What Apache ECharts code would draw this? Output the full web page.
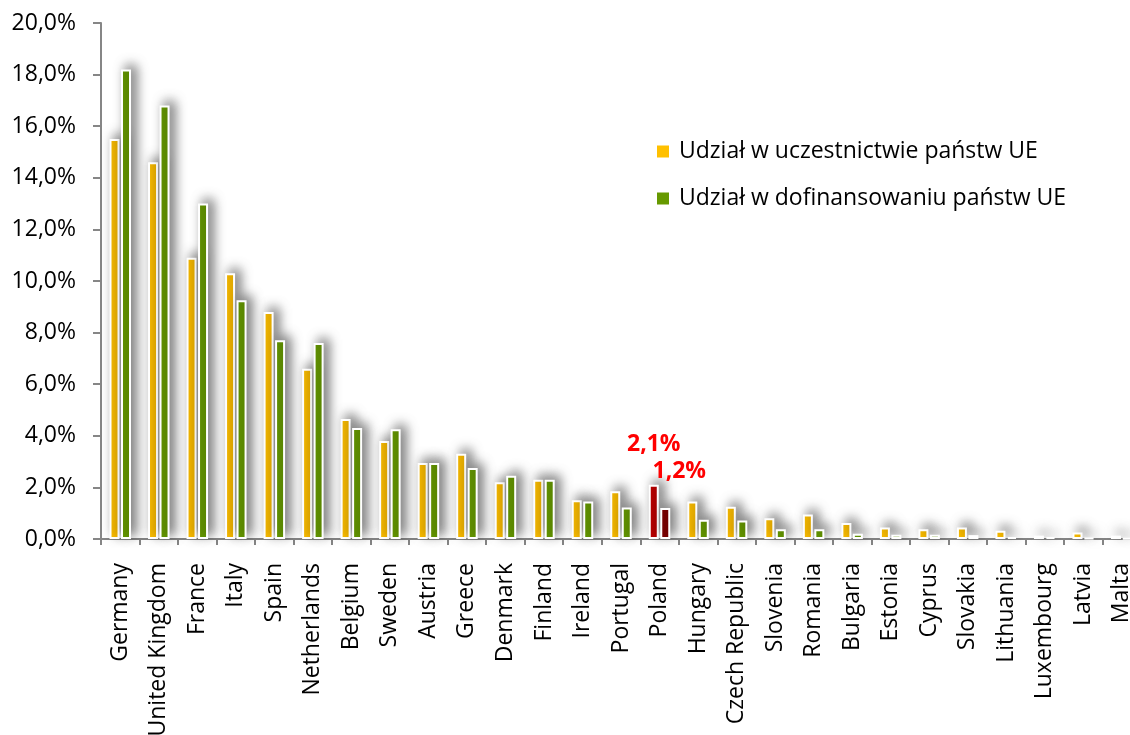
<!DOCTYPE html>
<html>
<head>
<meta charset="utf-8">
<script src="https://cdn.jsdelivr.net/npm/echarts@6/dist/echarts.min.js"></script>
<style>
html,body{margin:0;padding:0;background:#fff;}
#chart{width:1130px;height:735px;}
</style>
</head>
<body>
<div id="chart"></div>
<script>
const categories = ["Germany","United Kingdom","France","Italy","Spain","Netherlands","Belgium","Sweden","Austria","Greece","Denmark","Finland","Ireland","Portugal","Poland","Hungary","Czech Republic","Slovenia","Romania","Bulgaria","Estonia","Cyprus","Slovakia","Lithuania","Luxembourg","Latvia","Malta"];
const participation = [15.5,14.6,10.9,10.3,8.8,6.6,4.65,3.8,2.95,3.3,2.2,2.3,1.5,1.85,2.1,1.45,1.25,0.8,0.95,0.62,0.45,0.38,0.45,0.32,0.13,0.25,0.13];
const funding = [18.2,16.8,13.0,9.25,7.7,7.6,4.3,4.25,2.95,2.75,2.45,2.3,1.45,1.22,1.2,0.75,0.72,0.38,0.38,0.2,0.16,0.16,0.15,0.07,0.07,0.03,0.02];
const seriesNames = ["Udział w uczestnictwie państw UE","Udział w dofinansowaniu państw UE"];
const yTicks = {min:0, max:20, interval:2};
const highlight = "Poland";

const FONT = 'Open Sans';
const fmt = v => v.toFixed(1).replace('.', ',') + '%';
const shadow = {borderColor:'#fff', borderWidth:2, shadowColor:'rgba(0,0,0,0.55)', shadowBlur:12, shadowOffsetX:5, shadowOffsetY:-4};

function build(values, hiColor, labelOffset) {
  return values.map((v, i) => {
    if (categories[i] === highlight) {
      return {value: v, itemStyle: {color: hiColor},
        label: {show: true, position: 'top', offset: labelOffset, formatter: p => fmt(p.value),
          color: '#FF0000', fontWeight: 'bold', fontSize: 23, fontFamily: FONT}};
    }
    return {value: v};
  });
}

const chart = echarts.init(document.getElementById('chart'));
chart.setOption({
  animation: false,
  backgroundColor: '#fff',
  textStyle: {fontFamily: FONT},
  grid: {left: 101, top: 23, bottom: 196, right: -11, containLabel: false, outerBoundsMode: 'none'},
  legend: {
    orient: 'vertical', left: 650, top: 135, itemWidth: 14, itemHeight: 14, itemGap: 24,
    icon: 'rect', data: seriesNames,
    textStyle: {fontSize: 23, color: '#000', fontFamily: FONT, padding: [0,0,0,4]}
  },
  xAxis: {
    type: 'category', data: categories,
    axisLine: {lineStyle: {color: '#868686', width: 2}},
    axisTick: {show: true, length: 6, alignWithLabel: false, lineStyle: {color: '#868686', width: 2}},
    axisLabel: {rotate: 90, interval: 0, fontSize: 23, color: '#000', margin: 24, fontFamily: FONT}
  },
  yAxis: {
    type: 'value', min: yTicks.min, max: yTicks.max, interval: yTicks.interval,
    splitLine: {show: false},
    axisLine: {show: true, lineStyle: {color: '#868686', width: 2}},
    axisTick: {show: true, length: 8, lineStyle: {color: '#868686', width: 2}},
    axisLabel: {formatter: fmt, fontSize: 23, color: '#000', margin: 25, fontFamily: FONT}
  },
  series: [
    {name: seriesNames[0], type: 'bar', barWidth: 10, barGap: '15%',
     itemStyle: Object.assign({color: '#FFC000'}, shadow),
     data: build(participation, '#C00000', [0, -24])},
    {name: seriesNames[1], type: 'bar', barWidth: 10, barGap: '15%',
     itemStyle: Object.assign({color: '#669900'}, shadow),
     data: build(funding, '#7F0000', [14, -20])}
  ]
});
</script>
</body>
</html>
